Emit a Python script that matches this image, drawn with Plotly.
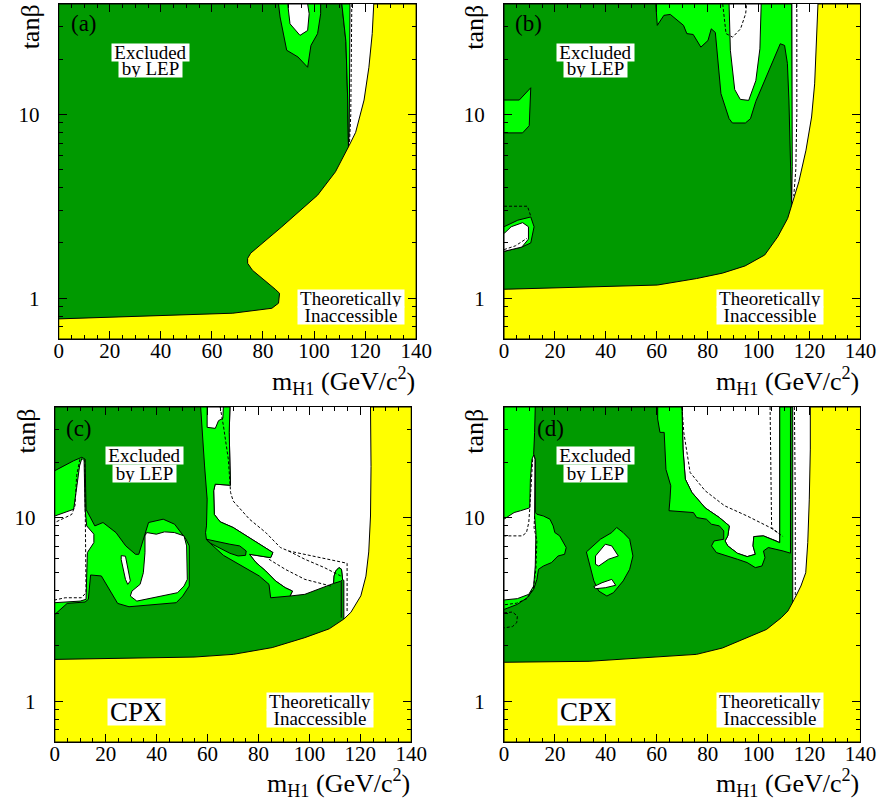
import math
import plotly.graph_objects as go

# ---------------- colours ----------------
DG = "#009a00"
LG = "#00ff00"
YEL = "#ffff00"
WH = "#ffffff"

# ---------------- axis ticks ----------------
X_MAJOR = [0, 20, 40, 60, 80, 100, 120, 140]
X_MINOR = [v for v in range(0, 141, 5) if v % 20 != 0]
Y_MAJOR = [1, 10]
Y_MAJOR_TEXT = ["1", "10"]
Y_MINOR = [0.6, 0.7, 0.8, 0.9, 2, 3, 4, 5, 6, 7, 8, 9, 20, 30, 40]
X_RANGE = [0, 140]
Y_RANGE = [0.6, 40]

# ================= panel (a) =================
A_dg_x = [0, 113.5, 113.5, 113.2, 112.5, 110.9, 0]
A_dg_y = [0.6, 0.6, 6.7, 12, 25, 40, 40]
A_lgs_x = [113.5, 113.2, 112.5, 110.9, 114.1, 114.0, 113.8]
A_lgs_y = [6.7, 12, 25, 40, 40, 20, 8]
A_lgi_x = [86.1, 86.7, 89.3, 93.7, 97.5, 98.8, 101.4, 102.6, 102.6]
A_lgi_y = [40, 34, 22.4, 20.6, 18.1, 23.8, 27.6, 35.4, 40]
A_wh_x = [89.7, 90.6, 94.5, 97.5, 98.1, 97.5]
A_wh_y = [40, 31.2, 27, 28.7, 35.4, 40]
A_yel_x = [0, 0, 68.2, 83.5, 86.1, 86.5, 84.8, 75.9, 74, 74, 75.2, 87.4, 101.4, 108.4,
           113.8, 116.3, 119.6, 121.5, 122.8, 123.4, 140, 140]
A_yel_y = [0.6, 0.772, 0.829, 0.882, 0.94, 1.064, 1.12, 1.42, 1.55, 1.65, 1.76, 2.45, 3.64, 4.88,
           6.8, 8, 12, 18.1, 27.6, 40, 40, 0.6]
A_dash1_x = [114.8, 114.7, 114.4, 113.9]
A_dash1_y = [40, 20, 10, 7]

# ================= panel (b) =================
B_dg_x = [0, 113, 113, 0]
B_dg_y = [0.6, 0.6, 40, 40]
B_lgt_x = [59.6, 60.2, 62.8, 65.3, 70.5, 71.8, 74.3, 77.3, 80.1, 81.4, 83.0, 85.2, 88.4, 89.7,
           94.8, 96.8, 98.9, 103.4, 108.5, 110.2, 111.3, 111.9, 112.4, 112.9, 113.2, 113.1, 113.0]
B_lgt_y = [40, 30.6, 34.7, 35.1, 30.6, 27.6, 27.3, 23.3, 25.3, 29.3, 28, 13, 9.5, 9.0,
           9.0, 9.5, 11.8, 16.7, 24.3, 23.8, 19, 12, 7.3, 3.35, 5.2, 12, 40]
B_wh_x = [88.4, 88.9, 90.6, 92.8, 96.1, 98.9, 100.5, 101.0]
B_wh_y = [40, 22.4, 13.7, 12.1, 11.95, 15.3, 22.8, 40]
B_lgl1_x = [0, 6, 10.5, 9.9, 7.3, 0]
B_lgl1_y = [12, 12, 14, 8.7, 7.95, 7.95]
B_lgl2_x = [0, 5.4, 10.5, 11.8, 10.5, 7, 0]
B_lgl2_y = [2.45, 2.66, 2.77, 2.45, 2.0, 1.9, 1.8]
B_whl_x = [0, 2.8, 7.3, 9.6, 9.6, 7, 0]
B_whl_y = [2.25, 2.45, 2.58, 2.45, 2.1, 1.9, 1.8]
B_yel_x = [0, 0, 60.2, 75.6, 85.8, 94.7, 102.4, 107.5, 111.4, 113.3, 115.8, 118.6, 120.8, 122,
           122.8, 123.3, 140, 140]
B_yel_y = [0.6, 1.119, 1.18, 1.28, 1.37, 1.5, 1.72, 2.16, 2.72, 3.28, 4.31, 6.4, 9.7, 14.7,
           24.3, 40, 40, 0.6]
B_dash1_x = [115.0, 115.0, 114.6, 113.8]
B_dash1_y = [40, 10, 5, 3.6]
B_dash2_x = [85.9, 87.2, 89.8, 92.9, 94.9, 95.3]
B_dash2_y = [40, 27.6, 26.4, 29.3, 35.4, 40]
B_dash3_x = [0, 9.2, 10.5]
B_dash3_y = [3.17, 3.17, 2.8]
B_dash4_x = [0, 4.5, 9]
B_dash4_y = [1.84, 1.93, 2.12]

# ================= panel (c) =================
C_dg_x = [0, 0, 68.8, 68.5, 68.8, 69.0, 63.0, 62.4, 62.65, 64.95, 70.07, 75.18, 81.58, 85.67,
          84.77, 81.58, 76.46, 79.02, 82.85, 86.69, 90.53, 93.34, 92.4, 98.2, 104.6, 109.5,
          109.7, 110.34, 111.6, 112.6, 113.03, 113.54, 113.54]
C_dg_y = [0.6, 40, 40, 29.1, 19.1, 15.0, 15.2, 14.0, 10.4, 9.48, 8.83, 7.95, 7.01, 6.45,
          6.05, 6.13, 6.31, 5.69, 5.12, 4.52, 4.15, 3.98, 3.74, 3.82, 4.15, 4.38,
          4.81, 5.12, 5.34, 5.23, 4.6, 4.55, 0.6]
C_band_x = [68.8, 68.5, 68.8, 69.0, 63.0, 62.4, 62.65, 64.95, 70.07, 75.18, 81.58, 85.67,
            84.77, 81.58, 76.46, 79.02, 82.85, 86.69, 90.53, 93.34, 92.4,
            84.77, 84.13, 80.3, 74.54, 66.23, 59.58, 59.2, 59.58, 59.84, 58.82, 57.92, 57.28]
C_band_y = [40, 29.1, 19.1, 15.0, 15.2, 14.0, 10.4, 9.48, 8.83, 7.95, 7.01, 6.45,
            6.05, 6.13, 6.31, 5.69, 5.12, 4.52, 4.15, 3.98, 3.74,
            3.66, 4.33, 4.81, 5.34, 6.23, 7.56, 8.28, 9.01, 12.6, 19.1, 29.1, 40]
C_whtop_x = [59.84, 59.84, 63.04, 64.3, 66.0, 66.2]
C_whtop_y = [40, 31.0, 30.6, 33.7, 34.7, 40]
C_lens_x = [59.58, 64.95, 68.79, 72.63, 75.18, 74.93, 71.99, 68.79, 64.95, 61.12]
C_lens_y = [7.62, 7.31, 7.16, 7.01, 6.58, 6.23, 6.18, 6.39, 6.78, 7.25]
C_blob_x = [109.5, 109.7, 110.34, 111.6, 112.6, 113.03, 112.3]
C_blob_y = [4.38, 4.81, 5.12, 5.34, 5.23, 4.6, 4.5]
C_vline_x = [112.5, 112.5]
C_vline_y = [4.5, 2.85]
C_lgl_x = [0, 3.58, 7.42, 10.61, 11.89, 12.27, 15.73, 18.93, 24.04, 27.87, 31.71, 32.99, 35.55,
           36.82, 42.58, 47.05, 51.53, 52.81, 52.81, 50.25, 47.69, 29.15, 24.68, 21.48, 18.28,
           14.06, 13.17, 11.89, 4.86, 0]
C_lgl_y = [18.0, 19.2, 20.4, 21.3, 20.8, 11.1, 9.01, 9.4, 8.28, 7.01, 6.31, 6.31, 8.28,
           9.4, 9.8, 9.2, 7.62, 7.01, 4.24, 3.74, 3.44, 3.27, 3.41, 4.07, 4.81,
           4.87, 3.59, 3.47, 3.41, 2.97]
C_w1_x = [0, 4.22, 7.42, 8.69, 9.72, 10.61, 11.51, 11.89, 12.53, 15.34, 15.34, 12.79, 12.27, 9.97, 0]
C_w1_y = [10.2, 10.66, 11.1, 14.9, 19.1, 21.0, 20.4, 11.1, 9.01, 8.12, 7.31, 6.45, 3.59, 3.51, 3.44]
C_w2_x = [36.06, 39.89, 43.09, 46.93, 50.76, 51.78, 52.04, 50.76, 48.2, 41.94, 32.22, 29.66,
          30.3, 33.5, 34.78, 35.42, 35.42]
C_w2_y = [8.29, 8.12, 8.36, 8.29, 7.95, 7.01, 4.61, 4.24, 3.9, 3.74, 3.51, 3.74,
          3.98, 4.33, 5.01, 6.45, 7.95]
C_w3_x = [26.08, 27.75, 29.66, 28.64, 27.75, 26.08]
C_w3_y = [6.21, 6.16, 4.52, 4.33, 4.61, 5.9]
C_yel_x = [0, 0, 54.7, 70.1, 85.4, 98.2, 107.8, 113.5, 116.3, 120.2, 122.2, 123.3, 124.0,
           124.2, 124.0, 140, 140]
C_yel_y = [0.6, 1.69, 1.74, 1.8, 1.96, 2.22, 2.48, 2.8, 3.05, 3.75, 4.8, 6.5, 10.2,
           19, 40, 40, 0.6]
C_dashA_x = [64.95, 66.23, 68.15, 69.04, 70.07, 76.46, 82.85, 88.6, 91.8, 114.8, 114.8]
C_dashA_y = [40, 31.6, 20.8, 13.7, 12.3, 9.8, 8.29, 6.87, 6.58, 5.64, 3.03]
C_dashB_x = [91.8, 98.2, 105.9, 112.3]
C_dashB_y = [6.58, 5.93, 5.34, 4.81]
C_dashC_x = [84.1, 90.5, 98.2, 108.4]
C_dashC_y = [5.93, 5.23, 4.61, 4.24]
C_dashD_x = [9.85, 8.57, 7.93, 6.65, 0]
C_dashD_y = [20.8, 16.9, 11.6, 10.4, 9.4]
C_dashE_x = [11.76, 12.0, 12.27, 12.27, 10.48, 4.09, 0]
C_dashE_y = [20.8, 12.6, 6.72, 3.9, 3.66, 3.66, 3.56]

# ================= panel (d) =================
D_dg_x = [0, 0, 69.9, 70.3, 71.2, 73.8, 79.0, 84.6, 88.5, 87.9, 86.8, 87.9, 91.7, 95.5, 98.7,
          97.8, 98.1, 101.9, 107.0, 108.3, 108.3, 113.4, 113.4]
D_dg_y = [0.6, 40, 40, 23.6, 16.2, 13.7, 11.3, 10.0, 9.01, 7.95, 7.46, 7.01, 6.39, 6.13, 6.31,
          7.01, 7.88, 7.95, 7.46, 7.3, 40, 40, 0.6]
D_band_x = [60.35, 69.9, 70.3, 71.2, 73.8, 79.0, 84.6, 88.5, 87.9, 86.8, 87.9, 91.7, 95.5, 98.7,
            97.8, 98.1, 101.9, 107.0, 108.3, 108.3, 112.5, 112.5,
            109.6, 103.8, 101.9, 102.5, 101.3, 98.7, 95.5, 91.7, 87.2, 83.4, 81.5, 82.5, 86.3,
            86.3, 84.6, 81.5, 79.5, 75.7, 74.4, 64.8, 65.2, 65.5, 63.6, 63.3, 62.9, 61.25, 60.35]
D_band_y = [40, 40, 23.6, 16.2, 13.7, 11.3, 10.0, 9.01, 7.95, 7.46, 7.01, 6.39, 6.13, 6.31,
            7.01, 7.88, 7.95, 7.46, 7.3, 40, 40, 6.4,
            6.58, 6.87, 6.58, 6.05, 5.45, 5.34, 5.69, 5.93, 6.18, 6.45, 7.01, 7.46, 7.62,
            8.46, 9.01, 9.2, 9.8, 10.0, 10.65, 10.9, 12.6, 14.9, 18.3, 23.6, 29.1, 29.1, 34.4]
D_lgl_x = [0, 12.27, 12.02, 11.64, 12.27, 12.27, 12.91, 15.47, 18.03, 19.31, 19.95, 21.86, 24.42,
           23.78, 21.22, 18.67, 15.47, 13.55, 12.91, 11.64, 9.08, 5.24, 0]
D_lgl_y = [40, 40, 29.1, 22.2, 20.8, 10.65, 10.43, 10.2, 9.8, 9.01, 8.29, 7.95, 6.87,
           6.31, 6.18, 5.69, 5.45, 5.23, 4.61, 4.07, 3.66, 3.37, 3.16]
D_whl_x = [0, 3.96, 6.52, 10.1, 10.36, 11.0, 11.64, 12.15, 12.02, 12.53, 12.27, 11.64, 9.72, 5.24, 0]
D_whl_y = [9.8, 10.65, 10.9, 11.3, 16.2, 20.8, 21.9, 20.8, 10.2, 8.29, 5.45, 4.24, 3.82, 3.62, 3.56]
D_isl_x = [32.35, 37.85, 42.32, 44.24, 46.8, 49.35, 50.63, 49.35, 46.8, 42.96, 40.4, 37.21, 35.29, 33.37]
D_isl_y = [6.5, 7.62, 8.29, 8.83, 8.29, 7.62, 6.18, 5.23, 4.52, 3.9, 3.74, 3.98, 4.52, 5.69]
D_wa_x = [35.93, 39.77, 42.32, 44.88, 41.04, 37.21, 35.93]
D_wa_y = [6.18, 7.16, 7.01, 6.18, 5.93, 5.45, 5.57]
D_wb_x = [35.29, 38.49, 42.32, 43.86, 39.77, 35.93]
D_wb_y = [4.21, 4.42, 4.61, 4.28, 4.15, 4.1]
D_yel_x = [0, 0, 33.4, 65.3, 75.6, 85.8, 94.7, 103.1, 108.9, 111.5, 114.0, 116.6, 118.5, 119.3,
           119.9, 120.3, 120.3, 140, 140]
D_yel_y = [0.6, 1.63, 1.65, 1.75, 1.8, 1.95, 2.19, 2.46, 2.85, 3.1, 3.59, 4.24, 5.01, 7.31,
           12.6, 23.6, 40, 40, 0.6]
D_dashA_x = [69.9, 70.6, 73.1, 79.0, 86.6, 95.5, 104.5, 109.6]
D_dashA_y = [40, 29.1, 17.6, 14.0, 11.6, 10.2, 8.83, 7.88]
D_dashB_x = [104.5, 105.1, 108.3]
D_dashB_y = [40, 8.83, 8.12]
D_dashC_x = [114.05, 114.4, 114.4]
D_dashC_y = [40, 12.6, 3.74]
D_dashD_x = [11.25, 10.61, 10.1, 9.72, 8.82, 7.16, 0]
D_dashD_y = [20.8, 13.7, 11.1, 9.4, 8.29, 7.95, 7.95]
D_dashE_x = [0, 3.32, 5.24, 4.99, 3.32, 0]
D_dashE_y = [3.03, 3.06, 2.91, 2.68, 2.55, 2.51]
D_dashF_x = [12.0, 11.8, 12.9, 12.5, 11.5, 9.0, 5.0, 0]
D_dashF_y = [10.2, 8.8, 7.5, 5.2, 4.1, 3.62, 3.42, 3.35]

# ---------------- figure ----------------
W, H = 896, 801
FONT = "Liberation Serif, Times New Roman, serif"
fig = go.Figure()


def poly(xs, ys, color, ax):
    xs = list(xs) + [xs[0]]
    ys = list(ys) + [ys[0]]
    fig.add_trace(go.Scatter(x=xs, y=ys, mode="lines", fill="toself", fillcolor=color,
                             line=dict(color="black", width=1), hoverinfo="skip",
                             showlegend=False, xaxis="x" + ax, yaxis="y" + ax))


def dash(xs, ys, ax):
    fig.add_trace(go.Scatter(x=xs, y=ys, mode="lines",
                             line=dict(color="black", width=1, dash="3px,2px"),
                             hoverinfo="skip", showlegend=False, xaxis="x" + ax, yaxis="y" + ax))


def line(xs, ys, ax):
    fig.add_trace(go.Scatter(x=xs, y=ys, mode="lines", line=dict(color="black", width=1),
                             hoverinfo="skip", showlegend=False, xaxis="x" + ax, yaxis="y" + ax))


# panel a  (axis suffix "")
poly(A_dg_x, A_dg_y, DG, "")
poly(A_lgs_x, A_lgs_y, LG, "")
poly(A_lgi_x, A_lgi_y, LG, "")
poly(A_wh_x, A_wh_y, WH, "")
dash(A_dash1_x, A_dash1_y, "")
poly(A_yel_x, A_yel_y, YEL, "")

# panel b
poly(B_dg_x, B_dg_y, DG, "2")
poly(B_lgt_x, B_lgt_y, LG, "2")
poly(B_wh_x, B_wh_y, WH, "2")
poly(B_lgl1_x, B_lgl1_y, LG, "2")
poly(B_lgl2_x, B_lgl2_y, LG, "2")
poly(B_whl_x, B_whl_y, WH, "2")
for dx, dy in [(B_dash1_x, B_dash1_y), (B_dash2_x, B_dash2_y), (B_dash3_x, B_dash3_y),
               (B_dash4_x, B_dash4_y)]:
    dash(dx, dy, "2")
poly(B_yel_x, B_yel_y, YEL, "2")

# panel c
poly(C_dg_x, C_dg_y, DG, "3")
poly(C_band_x, C_band_y, LG, "3")
poly(C_whtop_x, C_whtop_y, WH, "3")
poly(C_lens_x, C_lens_y, DG, "3")
poly(C_blob_x, C_blob_y, LG, "3")
line(C_vline_x, C_vline_y, "3")
poly(C_lgl_x, C_lgl_y, LG, "3")
poly(C_w1_x, C_w1_y, WH, "3")
poly(C_w2_x, C_w2_y, WH, "3")
poly(C_w3_x, C_w3_y, WH, "3")
for dx, dy in [(C_dashA_x, C_dashA_y), (C_dashB_x, C_dashB_y), (C_dashC_x, C_dashC_y),
               (C_dashD_x, C_dashD_y), (C_dashE_x, C_dashE_y)]:
    dash(dx, dy, "3")
poly(C_yel_x, C_yel_y, YEL, "3")

# panel d
poly(D_dg_x, D_dg_y, DG, "4")
poly(D_band_x, D_band_y, LG, "4")
poly(D_lgl_x, D_lgl_y, LG, "4")
poly(D_whl_x, D_whl_y, WH, "4")
poly(D_isl_x, D_isl_y, LG, "4")
poly(D_wa_x, D_wa_y, WH, "4")
poly(D_wb_x, D_wb_y, WH, "4")
for dx, dy in [(D_dashA_x, D_dashA_y), (D_dashB_x, D_dashB_y), (D_dashC_x, D_dashC_y),
               (D_dashD_x, D_dashD_y), (D_dashE_x, D_dashE_y), (D_dashF_x, D_dashF_y)]:
    dash(dx, dy, "4")
poly(D_yel_x, D_yel_y, YEL, "4")


# ---------------- axes ----------------
def px(x):
    return x / W


def py(y):
    return 1 - y / H


# pixel boxes of the four frames: (left, right, top, bottom)
FRAMES = {
    "": (55, 421, 4, 339),
    "2": (511, 876, 4, 339),
    "3": (51, 416, 407, 742),
    "4": (511, 876, 407, 742),
}

tickfont = dict(family=FONT, size=21, color="black")
for ax, (l, r, t, b) in FRAMES.items():
    fig.layout["xaxis" + ax] = dict(
        domain=[px(l), px(r)], anchor="y" + ax, range=X_RANGE,
        tickmode="array", tickvals=X_MAJOR, ticktext=[str(v) for v in X_MAJOR],
        ticks="inside", ticklen=8, tickwidth=1, tickcolor="black",
        minor=dict(tickvals=X_MINOR, ticks="inside", ticklen=4, tickwidth=1, tickcolor="black"),
        showline=True, linecolor="black", linewidth=1, mirror="ticks",
        showgrid=False, zeroline=False, tickfont=tickfont, ticklabelstandoff=-7)
    fig.layout["yaxis" + ax] = dict(
        domain=[py(b), py(t)], anchor="x" + ax, type="log",
        range=[math.log10(Y_RANGE[0]), math.log10(Y_RANGE[1])],
        tickmode="array", tickvals=Y_MAJOR, ticktext=Y_MAJOR_TEXT,
        ticks="inside", ticklen=8, tickwidth=1, tickcolor="black",
        minor=dict(tickvals=Y_MINOR, ticks="inside", ticklen=4, tickwidth=1, tickcolor="black"),
        showline=True, linecolor="black", linewidth=1, mirror="ticks",
        showgrid=False, zeroline=False, tickfont=tickfont, ticklabelstandoff=14)

# ---------------- text ----------------
ann = []


def text(s, x, y, size, xanchor="center", yanchor="middle", bg=None, w=None, h=None, angle=0):
    d = dict(text=s, x=px(x), y=py(y), xref="paper", yref="paper", showarrow=False,
             xanchor=xanchor, yanchor=yanchor, textangle=angle,
             font=dict(family=FONT, size=size, color="black"), borderpad=0)
    if bg:
        d["bgcolor"] = bg
    if w:
        d["width"] = w
    if h:
        d["height"] = h
    ann.append(d)


PANEL_TEXT = [
    # label, label pos, excluded centre x, excluded y1, y2, theo x, theo y1, y2, cpx,
    # x-title y, x-title right, y-title x, y-title y
    ("(a)", (81, 24), 148.5, 52, 69, 354.5, 298, 315, None, 381, 421, 27, 27),
    ("(b)", (536.5, 24), 604.5, 52, 69, 783.5, 298, 315, None, 381, 876, 481, 27),
    ("(c)", (76, 428), 143, 456, 473, 322.5, 701, 718, (134.5, 712), 783, 416, 22, 431),
    ("(d)", (559, 428), 604.5, 456, 473, 783.5, 701, 718, (595, 712), 783, 876, 480, 431),
]
for (lab, lp, ex, ey1, ey2, tx, ty1, ty2, cpx, xty, xtr, ytx, yty) in PANEL_TEXT:
    text(lab, lp[0], lp[1], 23)
    text("Excluded", ex, ey1, 19, bg="white", w=77, h=17)
    text("by LEP", ex, ey2, 19, bg="white", w=63, h=17)
    text("Theoretically", tx, ty1, 19, bg="white", w=106, h=17)
    text("Inaccessible", tx, ty2, 19, bg="white", w=106, h=17)
    if cpx:
        text("CPX", cpx[0], cpx[1], 27, bg="white", w=57, h=26)
    text("m<sub>H1</sub> (GeV/c<sup>2</sup>)", xtr, xty, 26, xanchor="right")
    text("tanβ", ytx, yty, 26, angle=-90)

fig.update_layout(width=W, height=H, margin=dict(l=0, r=0, t=0, b=0),
                  paper_bgcolor="white", plot_bgcolor="white", annotations=ann,
                  showlegend=False)
fig.write_html("out.html")
